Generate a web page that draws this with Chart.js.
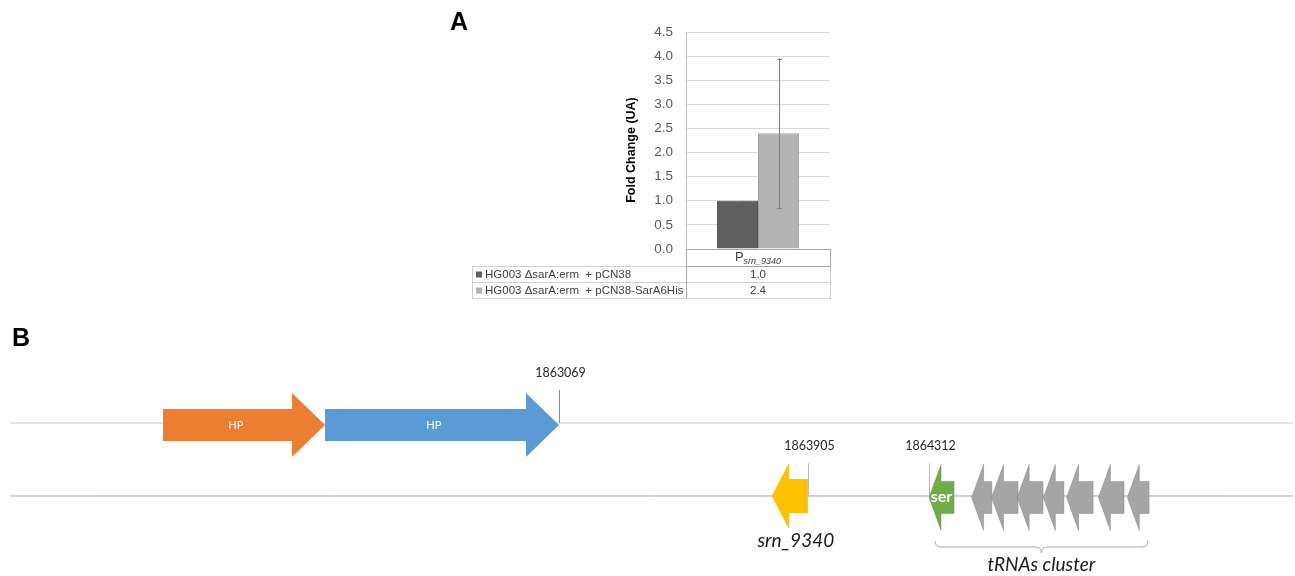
<!DOCTYPE html>
<html>
<head>
<meta charset="utf-8">
<script src="https://cdn.jsdelivr.net/npm/chart.js@4.4.1/dist/chart.umd.min.js"></script>
<style>
  body { margin: 0; background: #fff; }
  #wrap { position: relative; width: 1295px; height: 576px; overflow: hidden; background: #fff; }
  canvas { position: absolute; left: 0; }
  .panel { position: absolute; font: bold 25px 'Liberation Sans', Arial, sans-serif; color: #000; }
</style>
</head>
<body>
<div id="wrap">
  <canvas id="chartA" width="1295" height="310" style="top:0"></canvas>
  <canvas id="chartB" width="1295" height="266" style="top:310px"></canvas>
  <div class="panel" style="left:450px;top:7px">A</div>
  <div class="panel" style="left:12px;top:323px">B</div>
</div>
<script>
// --- panel A: fold change ---
const categories = ['P']
const categorySub = ['srn_9340']
const seriesNames = ['HG003 \u0394sarA:erm  + pCN38', 'HG003 \u0394sarA:erm  + pCN38-SarA6His']
const seriesValues = [[1.0], [2.4]]
const seriesErrors = [[0.0], [1.55]]
const yMin = 0
const yMax = 4.5
const yStep = 0.5
const yTitle = 'Fold Change (UA)'

// --- panel B: genomic map (bp) ---
const trackStart = [1861225, 1861225]
const trackEnd = [1865535, 1865535]
const trackLevel = [1, 0]
const geneNames = ['HP', 'HP', 'srn_9340', 'ser', '', '', '', '', '', '', '']
const geneStart = [1861739, 1862283, 1863784, 1864312, 1864455, 1864522, 1864608, 1864696, 1864774, 1864881, 1864978]
const geneEnd = [1862283, 1863069, 1863905, 1864396, 1864523, 1864611, 1864695, 1864765, 1864863, 1864967, 1865051]
const geneStrand = [1, 1, -1, -1, -1, -1, -1, -1, -1, -1, -1]
const geneTrack = [1, 1, 0, 0, 0, 0, 0, 0, 0, 0, 0]
const geneKind = ['hp', 'hp', 'srna', 'trna', 'trna', 'trna', 'trna', 'trna', 'trna', 'trna', 'trna']
const markerPos = [1863069, 1863905, 1864312]
const markerTrack = [1, 0, 0]
const clusterStart = 1864332
const clusterEnd = 1865047
const clusterLabel = 'tRNAs cluster'

// styles
const seriesFill = ['#5f5f5f', '#b3b3b3']
const seriesBorder = ['#4f4f4f', '#a3a3a3']
const geneFill = ['#ed7d31', '#5b9bd5', '#ffc000', '#70ad47', '#a5a5a5', '#a5a5a5', '#a5a5a5', '#a5a5a5', '#a5a5a5', '#a5a5a5', '#a5a5a5']
const trackColor = ['#c9c9c9', '#a6a6a6']
const arrowStyle = {
  hp: { shaft: 16, head: 32, headLen: 33, dy: 2 },
  srna: { shaft: 17, head: 33, headLen: 17, dy: 0 },
  trna: { shaft: 16, head: 33, headLen: 12, dy: 1.5 },
}

const errorBars = {
  id: 'errorBars',
  afterDatasetsDraw(chart) {
    const { ctx } = chart
    const y = chart.scales.y
    ctx.save()
    ctx.strokeStyle = '#7f7f7f'
    ctx.lineWidth = 1
    chart.data.datasets.forEach((ds, i) => {
      chart.getDatasetMeta(i).data.forEach((bar, j) => {
        const v = ds.data[j]
        const e = seriesErrors[i][j]
        const x = Math.round(bar.x) + 0.5
        const y0 = y.getPixelForValue(v - e)
        const y1 = y.getPixelForValue(v + e)
        ctx.beginPath()
        ctx.moveTo(x, y0)
        ctx.lineTo(x, y1)
        ctx.moveTo(x - 2.5, Math.round(y0) + 0.5)
        ctx.lineTo(x + 2.5, Math.round(y0) + 0.5)
        ctx.moveTo(x - 2.5, Math.round(y1) + 0.5)
        ctx.lineTo(x + 2.5, Math.round(y1) + 0.5)
        ctx.stroke()
      })
    })
    ctx.restore()
  },
}

// table under the plot (Excel style data table) + axis title
const dataTable = {
  id: 'dataTable',
  afterDraw(chart) {
    const { ctx, chartArea } = chart
    const x = chart.scales.x
    const left = 472
    const headH = 17
    const rowH = 16
    const top = chartArea.bottom
    const cx = x.getPixelForValue(0)
    const right = chartArea.right
    ctx.save()
    ctx.lineWidth = 1
    // rows
    ctx.strokeStyle = '#d0d0d0'
    const rowsTop = top + headH
    const rowsBottom = rowsTop + rowH * seriesNames.length
    ctx.strokeRect(left + 0.5, rowsTop + 0.5, right - left, rowsBottom - rowsTop)
    for (let i = 1; i < seriesNames.length; i++) {
      ctx.beginPath()
      ctx.moveTo(left, rowsTop + rowH * i + 0.5)
      ctx.lineTo(right, rowsTop + rowH * i + 0.5)
      ctx.stroke()
    }
    // header cell
    ctx.strokeStyle = '#a6a6a6'
    ctx.strokeRect(chartArea.left + 0.5, top + 0.5, right - chartArea.left, headH)
    ctx.beginPath()
    ctx.moveTo(chartArea.left + 0.5, rowsTop)
    ctx.lineTo(chartArea.left + 0.5, rowsBottom)
    ctx.stroke()

    // header text with subscript
    ctx.fillStyle = '#404040'
    ctx.textBaseline = 'middle'
    const mainFont = '13px "Liberation Sans", Arial, sans-serif'
    const subFont = 'italic 9px "Liberation Sans", Arial, sans-serif'
    ctx.font = mainFont
    const w1 = ctx.measureText(categories[0]).width
    ctx.font = subFont
    const w2 = ctx.measureText(categorySub[0]).width
    const sx = cx - (w1 + w2) / 2
    ctx.textAlign = 'left'
    ctx.font = mainFont
    ctx.fillText(categories[0], sx, top + 8)
    ctx.font = subFont
    ctx.fillText(categorySub[0], sx + w1, top + 12)

    // rows text
    ctx.font = '11.5px "Liberation Sans", Arial, sans-serif'
    seriesNames.forEach((name, i) => {
      const cy = rowsTop + rowH * i + rowH / 2 + 0.5
      ctx.fillStyle = seriesFill[i]
      ctx.fillRect(476, cy - 3, 6, 6)
      ctx.fillStyle = '#404040'
      ctx.textAlign = 'left'
      ctx.fillText(name, 485, cy)
      ctx.textAlign = 'center'
      ctx.fillText(seriesValues[i][0].toFixed(1), cx, cy)
    })

    // y axis title, centred over plot + table header like Excel does
    ctx.translate(632, (chartArea.top + rowsTop) / 2 + 1)
    ctx.rotate(-Math.PI / 2)
    ctx.fillStyle = '#000'
    ctx.textAlign = 'center'
    ctx.font = 'bold 12.5px "Liberation Sans", Arial, sans-serif'
    ctx.fillText(yTitle, 0, 0)
    ctx.restore()
  },
}

new Chart(document.getElementById('chartA'), {
  type: 'bar',
  data: {
    labels: categories,
    datasets: seriesNames.map((name, i) => ({
      label: name,
      data: seriesValues[i],
      backgroundColor: seriesFill[i],
      borderColor: seriesBorder[i],
      borderWidth: 1,
      categoryPercentage: 0.57,
      barPercentage: 1.0,
    })),
  },
  options: {
    responsive: false,
    animation: false,
    devicePixelRatio: 1,
    layout: { padding: { left: 620, right: 465, top: 32, bottom: 61 } },
    plugins: { legend: { display: false }, tooltip: { enabled: false } },
    scales: {
      x: { display: false },
      y: {
        min: yMin,
        max: yMax,
        afterFit: scale => { scale.width = 66 },
        ticks: {
          stepSize: yStep,
          padding: 13,
          color: '#595959',
          font: { family: '"Liberation Sans", Arial, sans-serif', size: 13.5 },
          callback: v => v.toFixed(1),
        },
        grid: { color: '#d9d9d9', drawTicks: false },
        border: { color: '#bfbfbf' },
      },
    },
  },
  plugins: [errorBars, dataTable],
})

// --- panel B ---
function arrowPath(ctx, x0, x1, strand, cy, st) {
  const sh = st.shaft, hh = st.head
  ctx.beginPath()
  if (strand > 0) {
    const hb = x1 - st.headLen
    ctx.moveTo(x0, cy - sh)
    ctx.lineTo(hb, cy - sh)
    ctx.lineTo(hb, cy - hh)
    ctx.lineTo(x1, cy)
    ctx.lineTo(hb, cy + hh)
    ctx.lineTo(hb, cy + sh)
    ctx.lineTo(x0, cy + sh)
  } else {
    const hb = x0 + st.headLen
    ctx.moveTo(x1, cy - sh)
    ctx.lineTo(hb, cy - sh)
    ctx.lineTo(hb, cy - hh)
    ctx.lineTo(x0, cy)
    ctx.lineTo(hb, cy + hh)
    ctx.lineTo(hb, cy + sh)
    ctx.lineTo(x1, cy + sh)
  }
  ctx.closePath()
}

const geneMap = {
  id: 'geneMap',
  afterDatasetsDraw(chart) {
    const { ctx } = chart
    const x = chart.scales.x
    const y = chart.scales.y
    ctx.save()

    // coordinate markers
    ctx.font = '12.5px Lato, "Open Sans", sans-serif'
    ctx.textAlign = 'center'
    ctx.textBaseline = 'middle'
    markerPos.forEach((p, i) => {
      const px = Math.round(x.getPixelForValue(p)) + 0.5
      const cy = y.getPixelForValue(markerTrack[i])
      ctx.strokeStyle = markerTrack[i] === 1 ? '#8c8c8c' : '#bdbdbd'
      ctx.lineWidth = 1
      ctx.beginPath()
      ctx.moveTo(px, cy - 33)
      ctx.lineTo(px, cy)
      ctx.stroke()
      ctx.fillStyle = '#262626'
      ctx.fillText(String(p), px + 1, cy - 50)
    })

    // genes
    geneStart.forEach((s, i) => {
      const st = arrowStyle[geneKind[i]]
      const x0 = x.getPixelForValue(s)
      const x1 = x.getPixelForValue(geneEnd[i])
      const cy = y.getPixelForValue(geneTrack[i]) + st.dy
      arrowPath(ctx, x0, x1, geneStrand[i], cy, st)
      ctx.fillStyle = geneFill[i]
      ctx.fill()
      if (geneKind[i] === 'trna') {
        ctx.strokeStyle = 'rgba(110,110,110,0.45)'
        ctx.lineWidth = 0.8
        ctx.stroke()
      }
      const name = geneNames[i]
      if (!name) return
      if (geneKind[i] === 'hp') {
        ctx.fillStyle = '#fff'
        ctx.font = '11px Lato, "Open Sans", sans-serif'
        ctx.fillText(name, (x0 + x1 - st.headLen / 2) / 2, cy)
      } else if (geneKind[i] === 'trna') {
        ctx.fillStyle = '#fff'
        ctx.font = 'bold 16px Lato, "Open Sans", sans-serif'
        ctx.fillText(name, (x0 + x1) / 2, cy - 1)
      } else {
        ctx.fillStyle = '#1a1a1a'
        ctx.font = 'italic 19px Lato, "Open Sans", sans-serif'
        ctx.fillText(name, (x0 + x1) / 2 + 6, cy + 45)
      }
    })

    // brace under the tRNA cluster
    const bx0 = x.getPixelForValue(clusterStart)
    const bx1 = x.getPixelForValue(clusterEnd)
    const by = y.getPixelForValue(0) + 45
    const bm = (bx0 + bx1) / 2
    const h = 12
    ctx.strokeStyle = '#a6a6a6'
    ctx.lineWidth = 1
    ctx.beginPath()
    ctx.moveTo(bx0, by)
    ctx.quadraticCurveTo(bx0, by + h / 2, bx0 + 6, by + h / 2)
    ctx.lineTo(bm - 6, by + h / 2)
    ctx.quadraticCurveTo(bm, by + h / 2, bm, by + h)
    ctx.quadraticCurveTo(bm, by + h / 2, bm + 6, by + h / 2)
    ctx.lineTo(bx1 - 6, by + h / 2)
    ctx.quadraticCurveTo(bx1, by + h / 2, bx1, by)
    ctx.stroke()
    ctx.fillStyle = '#1a1a1a'
    ctx.font = 'italic 19px Lato, "Open Sans", sans-serif'
    ctx.fillText(clusterLabel, bm, by + 24)
    ctx.restore()
  },
}

new Chart(document.getElementById('chartB'), {
  type: 'scatter',
  data: {
    datasets: trackLevel.map((lvl, i) => ({
      data: [{ x: trackStart[i], y: lvl }, { x: trackEnd[i], y: lvl }],
      showLine: true,
      borderColor: trackColor[i],
      borderWidth: 1,
      pointRadius: 0,
    })),
  },
  options: {
    responsive: false,
    animation: false,
    devicePixelRatio: 1,
    layout: { padding: 0 },
    plugins: { legend: { display: false }, tooltip: { enabled: false } },
    scales: {
      x: { type: 'linear', display: false, min: 1861191.3, max: 1865541.3 },
      y: { type: 'linear', display: false, min: -1.096, max: 2.548 },
    },
  },
  plugins: [geneMap],
})
</script>
</body>
</html>
